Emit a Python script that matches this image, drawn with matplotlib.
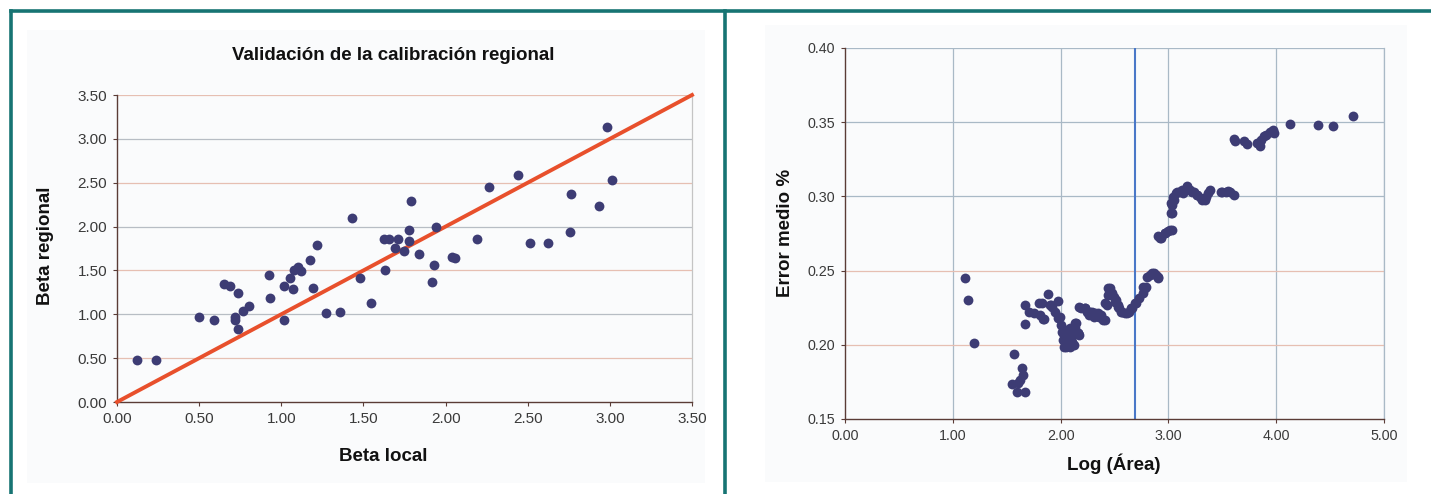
import matplotlib.pyplot as plt
from matplotlib.patches import Rectangle
from matplotlib.lines import Line2D
import numpy as np

plt.rcParams['font.family'] = ['Liberation Sans', 'DejaVu Sans']

# left panel: beta local vs beta regional
beta_local = [0.12, 0.24, 0.50, 0.59, 0.65, 0.69, 0.735, 0.72, 0.72, 0.735,
              0.77, 0.805, 0.926, 0.93, 1.017, 1.017, 1.05, 1.07, 1.08, 1.10,
              1.12, 1.176, 1.195, 1.218, 1.27, 1.356, 1.428, 1.48, 1.545, 1.624,
              1.657, 1.71, 1.63, 1.694, 1.748, 1.776, 1.78, 1.79, 1.84, 1.918,
              1.93, 1.94, 2.037, 2.06, 2.19, 2.263, 2.44, 2.515, 2.625, 2.758,
              2.763, 2.933, 2.98, 3.012]
beta_regional = [0.48, 0.48, 0.97, 0.94, 1.34, 1.32, 1.24, 0.97, 0.93, 0.83,
                 1.04, 1.09, 1.445, 1.18, 1.32, 0.93, 1.41, 1.29, 1.50, 1.54,
                 1.49, 1.615, 1.30, 1.786, 1.02, 1.025, 2.096, 1.41, 1.13, 1.858,
                 1.858, 1.858, 1.506, 1.756, 1.725, 1.83, 1.956, 2.29, 1.69, 1.37,
                 1.56, 1.99, 1.657, 1.64, 1.858, 2.456, 2.584, 1.816, 1.816, 1.933,
                 2.372, 2.236, 3.14, 2.535]
left_ticks = [0.0, 0.5, 1.0, 1.5, 2.0, 2.5, 3.0, 3.5]

# right panel: log(area) vs mean error
log_area = [1.113, 1.143, 1.20, 1.567, 1.547, 1.597, 1.671, 1.638, 1.648, 1.627,
            1.604, 1.671, 1.671, 1.705, 1.755, 1.795, 1.805, 1.846, 1.883, 1.907,
            1.923, 1.974, 1.99, 2.007, 2.024, 2.04, 2.05, 2.075, 2.09, 2.108,
            2.125, 2.09, 2.058, 2.142, 2.159, 2.175, 2.132, 2.04, 2.024, 2.075,
            2.108, 2.175, 2.226, 2.26, 2.293, 2.344, 2.377, 2.41, 2.36, 2.31,
            2.243, 2.192, 2.428, 2.444, 2.461, 2.478, 2.495, 2.512, 2.529, 2.545,
            2.562, 2.596, 2.63, 2.663, 2.697, 2.73, 2.764, 2.781, 2.797, 2.831,
            2.865, 2.899, 2.882, 2.899, 2.932, 2.966, 3.0, 3.033, 3.026, 3.033,
            3.05, 3.067, 3.1, 3.134, 3.168, 3.201, 3.235, 3.268, 3.302, 3.336,
            3.369, 3.386, 3.487, 3.537, 3.571, 3.605, 3.605, 3.621, 3.705, 3.732,
            3.823, 3.85, 3.857, 3.89, 3.907, 3.941, 3.974, 3.981, 4.126, 4.388,
            4.526, 4.714,
            1.825, 1.84, 1.902, 1.948, 1.979, 2.01, 2.032, 2.072, 2.103, 2.118,
            2.134, 2.164, 2.072, 2.087, 2.226, 2.273, 2.319, 2.366, 2.396, 2.412,
            2.443, 2.474, 2.505, 2.536, 2.567, 2.613, 2.65, 2.69, 2.767, 2.792,
            2.845, 2.906, 2.922, 2.968, 3.015, 3.03, 3.021, 3.04, 3.077, 3.123,
            3.17, 3.216, 3.262, 3.309, 3.349, 3.494, 3.556]
error_medio = [0.2447, 0.2303, 0.2013, 0.1936, 0.1734, 0.168, 0.168, 0.1842, 0.1797, 0.1763,
               0.1745, 0.2143, 0.2269, 0.2224, 0.2213, 0.2280, 0.2201, 0.2172, 0.2343, 0.2269,
               0.2258, 0.2296, 0.2190, 0.2134, 0.2078, 0.2022, 0.1988, 0.2033, 0.2078, 0.2010,
               0.1999, 0.1988, 0.2044, 0.2145, 0.2078, 0.2067, 0.2112, 0.2100, 0.2033, 0.2100,
               0.2078, 0.2258, 0.2246, 0.2201, 0.2224, 0.2213, 0.2201, 0.2168, 0.2190, 0.2190,
               0.2224, 0.2246, 0.2269, 0.2336, 0.2381, 0.2348, 0.2325, 0.2303, 0.2269, 0.2246,
               0.2224, 0.2213, 0.2224, 0.2246, 0.2280, 0.2314, 0.2348, 0.2381, 0.2460, 0.2471,
               0.2482, 0.2456, 0.2471, 0.2730, 0.2719, 0.2752, 0.2770, 0.2775, 0.2887, 0.2943,
               0.2977, 0.3022, 0.3033, 0.3022, 0.3067, 0.3044, 0.3033, 0.3011, 0.2988, 0.2977,
               0.3022, 0.3044, 0.3033, 0.3033, 0.3033, 0.3011, 0.3389, 0.3371, 0.3371, 0.3355,
               0.3360, 0.3342, 0.3382, 0.3404, 0.3416, 0.3431, 0.3449, 0.3427, 0.3488, 0.3479,
               0.3472, 0.3544,
               0.2280, 0.2172, 0.2268, 0.2223, 0.2179, 0.2088, 0.1987, 0.1999, 0.2021, 0.2066,
               0.2145, 0.2077, 0.2077, 0.2111, 0.2246, 0.2223, 0.2212, 0.2189, 0.2167, 0.2280,
               0.2380, 0.2336, 0.2290, 0.2257, 0.2223, 0.2216, 0.2246, 0.2280, 0.2392, 0.2387,
               0.2482, 0.2448, 0.2718, 0.2751, 0.2774, 0.2886, 0.2953, 0.2998, 0.3032, 0.3043,
               0.3065, 0.3032, 0.3009, 0.2976, 0.2998, 0.3032, 0.3039]
threshold = 2.69
right_xticks = [0.0, 1.0, 2.0, 3.0, 4.0, 5.0]
right_yticks = [0.15, 0.20, 0.25, 0.30, 0.35, 0.40]

dot_color = '#3d3c74'
spine_color = '#5a3c36'
grid_blue = '#a9b9c6'
grid_salmon = '#e6bfb2'
tick_color = '#3a3a3a'
label_color = '#111111'
frame_color = '#177473'

W, H = 1431, 494
fig = plt.figure(figsize=(W / 100, H / 100), dpi=100)


def px(x, y):
    # pixel position (from top-left) to figure fraction
    return x / W, 1 - y / H


# chart area backgrounds (behind the axes)
fig.add_artist(Rectangle(px(27, 483), 678 / W, 453 / H, transform=fig.transFigure,
                         facecolor='#fafbfc', edgecolor='none', zorder=-5))
fig.add_artist(Rectangle(px(765, 482), 642 / W, 457 / H, transform=fig.transFigure,
                         facecolor='#fafbfc', edgecolor='none', zorder=-5))

# teal frame
for xs, ys in [([11 / W, 11 / W], [0, 1 - 11 / H]),
               ([11 / W, 1], [1 - 11 / H, 1 - 11 / H]),
               ([725 / W, 725 / W], [0, 1 - 11 / H])]:
    fig.add_artist(Line2D(xs, ys, transform=fig.transFigure, color=frame_color, lw=2.6))


def style_axes(ax, labelsize):
    ax.set_facecolor('none')
    ax.set_zorder(2)
    for s in ['left', 'bottom']:
        ax.spines[s].set_color(spine_color)
        ax.spines[s].set_linewidth(1.0)
    ax.spines['top'].set_visible(False)
    ax.spines['right'].set_color(grid_blue)
    ax.spines['right'].set_linewidth(0.9)
    ax.tick_params(direction='out', length=3, width=0.8, color=spine_color,
                   labelsize=labelsize, labelcolor=tick_color, pad=4)


# ---- left chart ----
ax1 = fig.add_axes([117 / W, 1 - 402 / H, 575 / W, 307 / H])
style_axes(ax1, 11)
ax1.spines['right'].set_color('#c4c4c4')
ax1.set_xlim(0, 3.5)
ax1.set_ylim(0, 3.5)
ax1.set_xticks(left_ticks)
ax1.set_yticks(left_ticks)
ax1.set_xticklabels([f'{t:.2f}' for t in left_ticks])
ax1.set_yticklabels([f'{t:.2f}' for t in left_ticks])
for i, t in enumerate(left_ticks[1:]):
    c = '#b7bdc4' if i % 2 == 1 else grid_salmon
    ax1.axhline(t, color=c, lw=0.9, zorder=1)
ax1.plot([0, 3.5], [0, 3.5], color='#e8502c', lw=2.8, zorder=3, clip_on=False)
ax1.scatter(beta_local, beta_regional, s=50, color=dot_color, zorder=4, linewidths=0)

fig.text(*px(393, 55), 'Validación de la calibración regional', fontsize=13.5,
         fontweight='bold', color=label_color, ha='center', va='center')
fig.text(*px(383, 456), 'Beta local', fontsize=13.5, fontweight='bold',
         color=label_color, ha='center', va='center')
fig.text(*px(46, 246), 'Beta regional', fontsize=13.5, fontweight='bold',
         color=label_color, ha='center', va='center', rotation=90)

# ---- right chart ----
ax2 = fig.add_axes([845 / W, 1 - 419 / H, 539 / W, 371 / H])
style_axes(ax2, 10.3)
ax2.set_xlim(0, 5)
ax2.set_ylim(0.15, 0.40)
ax2.set_xticks(right_xticks)
ax2.set_yticks(right_yticks)
ax2.set_xticklabels([f'{t:.2f}' for t in right_xticks])
ax2.set_yticklabels([f'{t:.2f}' for t in right_yticks])
for t in right_xticks[1:]:
    ax2.axvline(t, color=grid_blue, lw=0.9, zorder=1)
for t in right_yticks[1:]:
    c = grid_salmon if t < 0.27 else grid_blue
    ax2.axhline(t, color=c, lw=0.9, zorder=1)
ax2.axvline(threshold, color='#4a78c8', lw=1.5, zorder=2)
ax2.scatter(log_area, error_medio, s=50, color=dot_color, zorder=4, linewidths=0)

fig.text(*px(1114, 464), 'Log (Área)', fontsize=13.5, fontweight='bold',
         color=label_color, ha='center', va='center')
fig.text(*px(785, 233), 'Error medio %', fontsize=13.5, fontweight='bold',
         color=label_color, ha='center', va='center', rotation=90)

fig.savefig('out.png', dpi=100, facecolor='white')
